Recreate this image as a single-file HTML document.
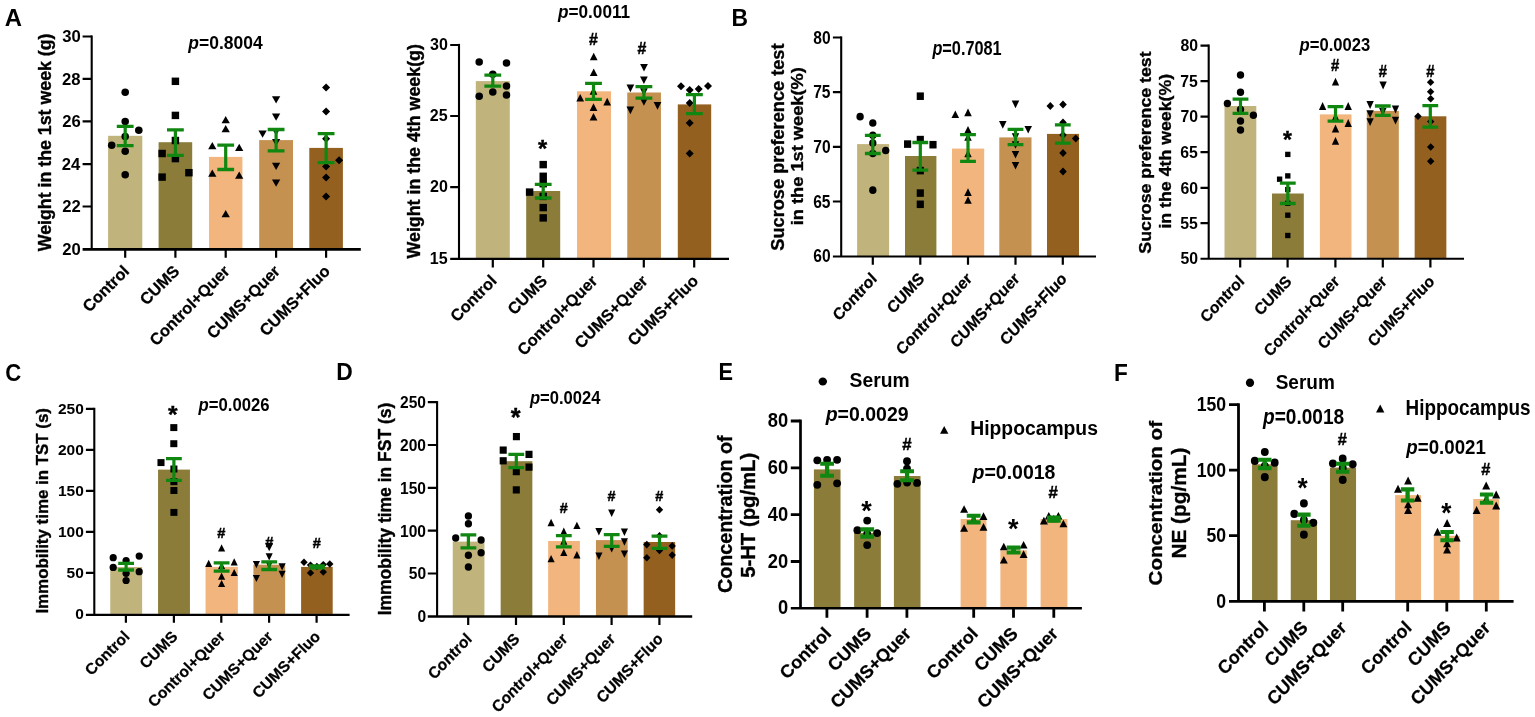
<!DOCTYPE html>
<html lang="en">
<head>
<meta charset="utf-8">
<title>Figure</title>
<style>
html,body{margin:0;padding:0;background:#fff;}
body{width:1535px;height:717px;overflow:hidden;}
svg{display:block;filter:blur(0.45px);}
svg text{font-family:"Liberation Sans", Arial, Helvetica, sans-serif;font-weight:bold;fill:#000;}
</style>
</head>
<body>
<svg width="1535" height="717" viewBox="0 0 1535 717">
<rect width="1535" height="717" fill="#fff"/>
<g id="a1">
<rect x="108.1" y="135.8" width="34.2" height="113.1" fill="#c1b37c"/>
<rect x="158.6" y="142.2" width="33.6" height="106.7" fill="#8b7d39"/>
<rect x="209" y="156.9" width="33.4" height="92" fill="#f2b57d"/>
<rect x="259.2" y="140.1" width="33.8" height="108.8" fill="#c49151"/>
<rect x="309.3" y="147.9" width="33.6" height="101" fill="#94601f"/>
<g fill="#000">
<ellipse cx="125.2" cy="92.3" rx="3.77" ry="3.77"/>
<ellipse cx="125.2" cy="121.5" rx="3.77" ry="3.77"/>
<ellipse cx="138.8" cy="130.2" rx="3.77" ry="3.77"/>
<ellipse cx="125.2" cy="136.6" rx="3.77" ry="3.77"/>
<ellipse cx="111.7" cy="145.2" rx="3.77" ry="3.77"/>
<ellipse cx="125.2" cy="151.2" rx="3.77" ry="3.77"/>
<ellipse cx="125.2" cy="174.7" rx="3.77" ry="3.77"/>
<rect x="171.68" y="77.58" width="7.45" height="7.45"/>
<rect x="171.68" y="111.68" width="7.45" height="7.45"/>
<rect x="171.68" y="136.78" width="7.45" height="7.45"/>
<rect x="158.38" y="149.78" width="7.45" height="7.45"/>
<rect x="171.68" y="154.88" width="7.45" height="7.45"/>
<rect x="185.18" y="168.97" width="7.45" height="7.45"/>
<rect x="158.38" y="173.38" width="7.45" height="7.45"/>
<path d="M221.57 123.33L229.82 123.33L225.7 116.08Z"/>
<path d="M221.57 132.22L229.82 132.22L225.7 124.97Z"/>
<path d="M208.18 149.22L216.43 149.22L212.3 141.97Z"/>
<path d="M235.07 150.93L243.32 150.93L239.2 143.68Z"/>
<path d="M208.18 176.82L216.43 176.82L212.3 169.57Z"/>
<path d="M235.07 178.82L243.32 178.82L239.2 171.57Z"/>
<path d="M221.57 217.32L229.82 217.32L225.7 210.07Z"/>
<path d="M271.98 96.28L280.23 96.28L276.1 103.53Z"/>
<path d="M271.98 113.47L280.23 113.47L276.1 120.72Z"/>
<path d="M258.48 130.57L266.73 130.57L262.6 137.82Z"/>
<path d="M271.98 128.38L280.23 128.38L276.1 135.62Z"/>
<path d="M271.98 138.88L280.23 138.88L276.1 146.12Z"/>
<path d="M271.98 162.78L280.23 162.78L276.1 170.03Z"/>
<path d="M271.98 179.57L280.23 179.57L276.1 186.82Z"/>
<path d="M322.08 87.6L326.1 83.57L330.12 87.6L326.1 91.62Z"/>
<path d="M322.08 111.4L326.1 107.38L330.12 111.4L326.1 115.43Z"/>
<path d="M322.08 138.8L326.1 134.78L330.12 138.8L326.1 142.83Z"/>
<path d="M335.08 160.3L339.1 156.28L343.12 160.3L339.1 164.33Z"/>
<path d="M322.08 166.4L326.1 162.38L330.12 166.4L326.1 170.43Z"/>
<path d="M322.08 177.4L326.1 173.38L330.12 177.4L326.1 181.43Z"/>
<path d="M322.08 196.4L326.1 192.38L330.12 196.4L326.1 200.43Z"/>
</g>
<path d="M125.2 126.3V145.6M175.4 129.8V155.4M225.7 145.2V169.5M276.1 129.5V150.8M326.1 133.7V162.7" stroke="#108710" stroke-width="3.2" fill="none"/>
<path d="M116.8 126.3H133.6M116.8 145.6H133.6M167 129.8H183.8M167 155.4H183.8M217.3 145.2H234.1M217.3 169.5H234.1M267.7 129.5H284.5M267.7 150.8H284.5M317.7 133.7H334.5M317.7 162.7H334.5" stroke="#108710" stroke-width="3.3" fill="none"/>
<path d="M91.7 35.4V249.3" stroke="#000" stroke-width="2.1" fill="none"/>
<path d="M82.6 249.3H360.8" stroke="#000" stroke-width="2.8" fill="none"/>
<path d="M82.6 36.5H91.7M82.6 78.9H91.7M82.6 121.4H91.7M82.6 164.1H91.7M82.6 206.5H91.7M125.2 249.3V257.7M175.4 249.3V257.7M225.7 249.3V257.7M276.1 249.3V257.7M326.1 249.3V257.7" stroke="#000" stroke-width="2.2" fill="none"/>
<text transform="translate(62.27 42.32) scale(0.98 1)" font-size="17">30</text>
<text transform="translate(62.11 84.74) scale(0.98 1)" font-size="17">28</text>
<text transform="translate(62.19 127.24) scale(0.98 1)" font-size="17">26</text>
<text transform="translate(61.69 170.03) scale(0.98 1)" font-size="17">24</text>
<text transform="translate(62.27 212.43) scale(0.98 1)" font-size="17">22</text>
<text transform="translate(62.27 254.74) scale(0.98 1)" font-size="17">20</text>
<text transform="translate(130.2 272.2) rotate(-45)" font-size="16.3" text-anchor="end" stroke="#000" stroke-width="0.25">Control</text>
<text transform="translate(180.4 272.2) rotate(-45)" font-size="16.3" text-anchor="end" stroke="#000" stroke-width="0.25">CUMS</text>
<text transform="translate(230.7 272.2) rotate(-45)" font-size="16.3" text-anchor="end" stroke="#000" stroke-width="0.25">Control+Quer</text>
<text transform="translate(281.1 272.2) rotate(-45)" font-size="16.3" text-anchor="end" stroke="#000" stroke-width="0.25">CUMS+Quer</text>
<text transform="translate(331.1 272.2) rotate(-45)" font-size="16.3" text-anchor="end" stroke="#000" stroke-width="0.25">CUMS+Fluo</text>
<text transform="translate(51.1 251.29) rotate(-90)" font-size="17.78" stroke="#000" stroke-width="0.35">Weight in the 1st week (g)</text>
<text transform="translate(188.34 48.91) scale(0.936 1)" font-size="18.66"><tspan font-style="italic">p</tspan>=0.8004</text>
<text transform="translate(4.65 26.45) scale(0.995 1)" font-size="24">A</text>
</g>
<g id="a2">
<rect x="475.8" y="81.1" width="34" height="177.3" fill="#c1b37c"/>
<rect x="526.2" y="191" width="34" height="67.4" fill="#8b7d39"/>
<rect x="577" y="91.3" width="34" height="167.1" fill="#f2b57d"/>
<rect x="627.25" y="92.5" width="33.7" height="165.9" fill="#c49151"/>
<rect x="677.8" y="104.4" width="33.4" height="154" fill="#94601f"/>
<g fill="#000">
<ellipse cx="479.2" cy="62.1" rx="3.77" ry="3.77"/>
<ellipse cx="506.5" cy="63.1" rx="3.77" ry="3.77"/>
<ellipse cx="492.8" cy="74.3" rx="3.77" ry="3.77"/>
<ellipse cx="506.5" cy="86" rx="3.77" ry="3.77"/>
<ellipse cx="492.8" cy="91.9" rx="3.77" ry="3.77"/>
<ellipse cx="479.2" cy="96.2" rx="3.77" ry="3.77"/>
<ellipse cx="506.5" cy="95" rx="3.77" ry="3.77"/>
<rect x="539.48" y="160.88" width="7.45" height="7.45"/>
<rect x="539.48" y="172.58" width="7.45" height="7.45"/>
<rect x="539.48" y="179.97" width="7.45" height="7.45"/>
<rect x="525.88" y="188.38" width="7.45" height="7.45"/>
<rect x="539.48" y="192.68" width="7.45" height="7.45"/>
<rect x="539.48" y="203.88" width="7.45" height="7.45"/>
<rect x="539.48" y="214.18" width="7.45" height="7.45"/>
<path d="M589.83 60.33L597.58 60.33L593.7 52.67Z"/>
<path d="M589.83 76.12L597.58 76.12L593.7 68.47Z"/>
<path d="M589.62 94.73L597.38 94.73L593.5 87.08Z"/>
<path d="M576.33 101.53L584.08 101.53L580.2 93.88Z"/>
<path d="M603.33 105.42L611.08 105.42L607.2 97.77Z"/>
<path d="M589.62 110.92L597.38 110.92L593.5 103.27Z"/>
<path d="M589.62 120.53L597.38 120.53L593.5 112.88Z"/>
<path d="M640.12 63.88L647.88 63.88L644 71.53Z"/>
<path d="M640.02 76.38L647.77 76.38L643.9 84.03Z"/>
<path d="M626.52 84.58L634.27 84.58L630.4 92.23Z"/>
<path d="M640.02 88.17L647.77 88.17L643.9 95.83Z"/>
<path d="M640.02 98.17L647.77 98.17L643.9 105.83Z"/>
<path d="M653.62 102.08L661.38 102.08L657.5 109.73Z"/>
<path d="M626.52 106.58L634.27 106.58L630.4 114.23Z"/>
<path d="M677.02 86.2L681 82.23L684.98 86.2L681 90.17Z"/>
<path d="M685.73 90L689.7 86.03L693.68 90L689.7 93.97Z"/>
<path d="M694.73 89L698.7 85.03L702.68 89L698.7 92.97Z"/>
<path d="M704.02 86.1L708 82.12L711.98 86.1L708 90.07Z"/>
<path d="M685.73 103L689.7 99.03L693.68 103L689.7 106.97Z"/>
<path d="M685.73 123.1L689.7 119.12L693.68 123.1L689.7 127.07Z"/>
<path d="M685.73 153.4L689.7 149.43L693.68 153.4L689.7 157.38Z"/>
</g>
<path d="M492.8 75.2V86.2M543.2 184.3V198M593.5 83.4V99.3M643.9 86.7V98.1M694.4 94.7V113.6" stroke="#108710" stroke-width="3.2" fill="none"/>
<path d="M484.4 75.2H501.2M484.4 86.2H501.2M534.8 184.3H551.6M534.8 198H551.6M585.1 83.4H601.9M585.1 99.3H601.9M635.5 86.7H652.3M635.5 98.1H652.3M686 94.7H702.8M686 113.6H702.8" stroke="#108710" stroke-width="3.3" fill="none"/>
<path d="M459 43.9V258.8" stroke="#000" stroke-width="2.1" fill="none"/>
<path d="M450.2 258.8H729" stroke="#000" stroke-width="2.3" fill="none"/>
<path d="M450.2 45H459M450.2 116H459M450.2 187.2H459M492.8 258.8V267.4M543.2 258.8V267.4M593.5 258.8V267.4M643.8 258.8V267.4M694.2 258.8V267.4" stroke="#000" stroke-width="2.2" fill="none"/>
<text transform="translate(430.01 50.22) scale(0.945 1)" font-size="17">30</text>
<text transform="translate(429.81 121.24) scale(0.945 1)" font-size="17">25</text>
<text transform="translate(430.01 192.44) scale(0.945 1)" font-size="17">20</text>
<text transform="translate(429.81 263.56) scale(0.945 1)" font-size="17">15</text>
<text transform="translate(497.8 281.9) rotate(-45)" font-size="16.3" text-anchor="end" stroke="#000" stroke-width="0.25">Control</text>
<text transform="translate(548.2 281.9) rotate(-45)" font-size="16.3" text-anchor="end" stroke="#000" stroke-width="0.25">CUMS</text>
<text transform="translate(598.5 281.9) rotate(-45)" font-size="16.3" text-anchor="end" stroke="#000" stroke-width="0.25">Control+Quer</text>
<text transform="translate(648.8 281.9) rotate(-45)" font-size="16.3" text-anchor="end" stroke="#000" stroke-width="0.25">CUMS+Quer</text>
<text transform="translate(699.2 281.9) rotate(-45)" font-size="16.3" text-anchor="end" stroke="#000" stroke-width="0.25">CUMS+Fluo</text>
<text transform="translate(420.3 258.49) rotate(-90)" font-size="17.82" stroke="#000" stroke-width="0.35">Weight in the 4th week(g)</text>
<text transform="translate(557.94 18.47) scale(0.954 1)" font-size="18.02"><tspan font-style="italic">p</tspan>=0.0011</text>
<text transform="translate(588.9 45)" font-size="15.8" stroke="#000" stroke-width="0.45">#</text>
<text transform="translate(637.4 53.9)" font-size="15.8" stroke="#000" stroke-width="0.45">#</text>
<text transform="translate(538.1 157.43)" font-size="23.6" stroke="#000" stroke-width="0.4">*</text>
</g>
<g id="b1">
<rect x="857.1" y="144.1" width="32" height="112" fill="#c1b37c"/>
<rect x="905" y="156" width="31.4" height="100.1" fill="#8b7d39"/>
<rect x="952" y="148.6" width="32.2" height="107.5" fill="#f2b57d"/>
<rect x="999.3" y="137.4" width="32.2" height="118.7" fill="#c49151"/>
<rect x="1047" y="133.9" width="32" height="122.2" fill="#94601f"/>
<g fill="#000">
<ellipse cx="860.1" cy="116.7" rx="3.67" ry="3.83"/>
<ellipse cx="872.8" cy="123" rx="3.67" ry="3.83"/>
<ellipse cx="872.8" cy="135.3" rx="3.67" ry="3.83"/>
<ellipse cx="872.8" cy="143.1" rx="3.67" ry="3.83"/>
<ellipse cx="885.7" cy="150.5" rx="3.67" ry="3.83"/>
<ellipse cx="872.8" cy="153.5" rx="3.67" ry="3.83"/>
<ellipse cx="872.8" cy="190.2" rx="3.67" ry="3.83"/>
<rect x="916.72" y="92.42" width="7.15" height="7.55"/>
<rect x="904.02" y="140.32" width="7.15" height="7.55"/>
<rect x="916.72" y="135.82" width="7.15" height="7.55"/>
<rect x="929.42" y="140.92" width="7.15" height="7.55"/>
<rect x="916.72" y="166.82" width="7.15" height="7.55"/>
<rect x="916.72" y="189.32" width="7.15" height="7.55"/>
<rect x="916.72" y="200.53" width="7.15" height="7.55"/>
<path d="M951.52 118.03L959.07 118.03L955.3 110.38Z"/>
<path d="M964.23 116.23L971.77 116.23L968 108.58Z"/>
<path d="M964.23 133.62L971.77 133.62L968 125.98Z"/>
<path d="M964.23 140.82L971.77 140.82L968 133.18Z"/>
<path d="M964.23 157.32L971.77 157.32L968 149.68Z"/>
<path d="M964.23 195.92L971.77 195.92L968 188.28Z"/>
<path d="M964.23 203.82L971.77 203.82L968 196.18Z"/>
<path d="M1011.73 100.58L1019.27 100.58L1015.5 108.23Z"/>
<path d="M999.02 121.08L1006.57 121.08L1002.8 128.72Z"/>
<path d="M1024.42 125.98L1031.98 125.98L1028.2 133.62Z"/>
<path d="M1011.73 133.18L1019.27 133.18L1015.5 140.82Z"/>
<path d="M1011.73 141.18L1019.27 141.18L1015.5 148.82Z"/>
<path d="M1011.73 150.98L1019.27 150.98L1015.5 158.62Z"/>
<path d="M1011.73 161.98L1019.27 161.98L1015.5 169.62Z"/>
<path d="M1046.52 106L1050.3 102.03L1054.08 106L1050.3 109.97Z"/>
<path d="M1059.22 104.6L1063 100.62L1066.78 104.6L1063 108.57Z"/>
<path d="M1059.22 122.6L1063 118.62L1066.78 122.6L1063 126.57Z"/>
<path d="M1059.22 135L1063 131.03L1066.78 135L1063 138.97Z"/>
<path d="M1071.92 138.6L1075.7 134.62L1079.48 138.6L1075.7 142.57Z"/>
<path d="M1059.22 152.9L1063 148.93L1066.78 152.9L1063 156.88Z"/>
<path d="M1059.22 171.4L1063 167.43L1066.78 171.4L1063 175.38Z"/>
</g>
<path d="M872.8 135.3V153.5M920.3 142.5V170.1M968 134.7V161.3M1015.5 129.4V144.7M1062.8 124.9V143.1" stroke="#108710" stroke-width="3.2" fill="none"/>
<path d="M864.9 135.3H880.7M864.9 153.5H880.7M912.4 142.5H928.2M912.4 170.1H928.2M960.1 134.7H975.9M960.1 161.3H975.9M1007.6 129.4H1023.4M1007.6 144.7H1023.4M1054.9 124.9H1070.7M1054.9 143.1H1070.7" stroke="#108710" stroke-width="3.3" fill="none"/>
<path d="M841.2 36.4V256.5" stroke="#000" stroke-width="2.1" fill="none"/>
<path d="M832.9 256.5H1096" stroke="#000" stroke-width="2.2" fill="none"/>
<path d="M832.9 37.5H841.2M832.9 92.2H841.2M832.9 146.9H841.2M832.9 201.5H841.2M872.8 256.5V264.8M920.3 256.5V264.8M968 256.5V264.8M1015.5 256.5V264.8M1062.8 256.5V264.8" stroke="#000" stroke-width="2.2" fill="none"/>
<text transform="translate(813.33 43.52) scale(0.89 1)" font-size="17.5">80</text>
<text transform="translate(813.14 98.13) scale(0.89 1)" font-size="17.5">75</text>
<text transform="translate(813.33 152.92) scale(0.89 1)" font-size="17.5">70</text>
<text transform="translate(813.14 207.52) scale(0.89 1)" font-size="17.5">65</text>
<text transform="translate(813.33 262.12) scale(0.89 1)" font-size="17.5">60</text>
<text transform="translate(877.8 279.7) scale(0.925 1) rotate(-45)" font-size="16.7" text-anchor="end" stroke="#000" stroke-width="0.25">Control</text>
<text transform="translate(925.3 279.7) scale(0.925 1) rotate(-45)" font-size="16.7" text-anchor="end" stroke="#000" stroke-width="0.25">CUMS</text>
<text transform="translate(973 279.7) scale(0.925 1) rotate(-45)" font-size="16.7" text-anchor="end" stroke="#000" stroke-width="0.25">Control+Quer</text>
<text transform="translate(1020.5 279.7) scale(0.925 1) rotate(-45)" font-size="16.7" text-anchor="end" stroke="#000" stroke-width="0.25">CUMS+Quer</text>
<text transform="translate(1067.8 279.7) scale(0.925 1) rotate(-45)" font-size="16.7" text-anchor="end" stroke="#000" stroke-width="0.25">CUMS+Fluo</text>
<text transform="translate(784 250.7) scale(0.96 1) rotate(-90)" font-size="18.2" stroke="#000" stroke-width="0.35">Sucrose preference test</text>
<text transform="translate(802.7 225.23) scale(0.95 1) rotate(-90)" font-size="18.25" stroke="#000" stroke-width="0.35">in the 1st week(%)</text>
<text transform="translate(932.42 55.25) scale(0.829 1)" font-size="19.65"><tspan font-style="italic">p</tspan>=0.7081</text>
<text transform="translate(731.41 26.45) scale(0.953 1)" font-size="24">B</text>
</g>
<g id="b2">
<rect x="1224.5" y="106" width="31.8" height="152.4" fill="#c1b37c"/>
<rect x="1272" y="193.5" width="31.8" height="64.9" fill="#8b7d39"/>
<rect x="1319.9" y="114.4" width="31.6" height="144" fill="#f2b57d"/>
<rect x="1366.8" y="110.9" width="32" height="147.5" fill="#c49151"/>
<rect x="1414.65" y="116.3" width="31.7" height="142.1" fill="#94601f"/>
<g fill="#000">
<ellipse cx="1240.5" cy="75.1" rx="3.67" ry="3.77"/>
<ellipse cx="1240.5" cy="92.3" rx="3.67" ry="3.77"/>
<ellipse cx="1227.4" cy="103.6" rx="3.67" ry="3.77"/>
<ellipse cx="1240.5" cy="109.5" rx="3.67" ry="3.77"/>
<ellipse cx="1253.4" cy="115.2" rx="3.67" ry="3.77"/>
<ellipse cx="1240.5" cy="121" rx="3.67" ry="3.77"/>
<ellipse cx="1240.5" cy="130" rx="3.67" ry="3.77"/>
<rect x="1285.12" y="151.72" width="5.35" height="5.35"/>
<rect x="1285.12" y="173.22" width="5.35" height="5.35"/>
<rect x="1276.92" y="176.52" width="5.35" height="5.35"/>
<rect x="1285.12" y="186.92" width="5.35" height="5.35"/>
<rect x="1285.12" y="200.62" width="5.35" height="5.35"/>
<rect x="1285.12" y="212.52" width="5.35" height="5.35"/>
<rect x="1285.12" y="232.82" width="5.35" height="5.35"/>
<path d="M1331.83 85.47L1339.17 85.47L1335.5 77.72Z"/>
<path d="M1318.92 109.88L1326.27 109.88L1322.6 102.12Z"/>
<path d="M1344.53 109.88L1351.88 109.88L1348.2 102.12Z"/>
<path d="M1331.83 120.58L1339.17 120.58L1335.5 112.83Z"/>
<path d="M1344.53 126.88L1351.88 126.88L1348.2 119.12Z"/>
<path d="M1331.83 132.38L1339.17 132.38L1335.5 124.62Z"/>
<path d="M1331.83 144.68L1339.17 144.68L1335.5 136.93Z"/>
<path d="M1379.42 81.62L1386.77 81.62L1383.1 89.38Z"/>
<path d="M1366.42 101.12L1373.77 101.12L1370.1 108.88Z"/>
<path d="M1391.83 105.62L1399.17 105.62L1395.5 113.38Z"/>
<path d="M1366.42 110.33L1373.77 110.33L1370.1 118.08Z"/>
<path d="M1379.12 108.12L1386.47 108.12L1382.8 115.88Z"/>
<path d="M1391.83 116.72L1399.17 116.72L1395.5 124.47Z"/>
<path d="M1366.42 118.33L1373.77 118.33L1370.1 126.08Z"/>
<path d="M1426.88 82.3L1430.6 78.58L1434.32 82.3L1430.6 86.02Z"/>
<path d="M1426.88 91.8L1430.6 88.08L1434.32 91.8L1430.6 95.52Z"/>
<path d="M1426.98 98.8L1430.7 95.08L1434.42 98.8L1430.7 102.52Z"/>
<path d="M1414.28 116.3L1418 112.58L1421.72 116.3L1418 120.02Z"/>
<path d="M1426.98 121.6L1430.7 117.88L1434.42 121.6L1430.7 125.32Z"/>
<path d="M1426.98 147L1430.7 143.28L1434.42 147L1430.7 150.72Z"/>
<path d="M1426.98 161.3L1430.7 157.58L1434.42 161.3L1430.7 165.03Z"/>
</g>
<path d="M1240.5 99.1V113.4M1287.8 183.2V203.5M1335.5 106.6V121.2M1382.8 106V115.4M1430.3 105.6V127.1" stroke="#108710" stroke-width="3.2" fill="none"/>
<path d="M1232.6 99.1H1248.4M1232.6 113.4H1248.4M1279.9 183.2H1295.7M1279.9 203.5H1295.7M1327.6 106.6H1343.4M1327.6 121.2H1343.4M1374.9 106H1390.7M1374.9 115.4H1390.7M1422.4 105.6H1438.2M1422.4 127.1H1438.2" stroke="#108710" stroke-width="3.3" fill="none"/>
<path d="M1208.7 44.5V258.8" stroke="#000" stroke-width="2.1" fill="none"/>
<path d="M1200.5 258.8H1464" stroke="#000" stroke-width="2.1" fill="none"/>
<path d="M1200.5 45.6H1208.7M1200.5 81.2H1208.7M1200.5 116.6H1208.7M1200.5 152.2H1208.7M1200.5 187.8H1208.7M1200.5 223.2H1208.7M1240.2 258.8V267.4M1287.6 258.8V267.4M1335.4 258.8V267.4M1382.8 258.8V267.4M1430.4 258.8V267.4" stroke="#000" stroke-width="2.2" fill="none"/>
<text transform="translate(1180.39 51.48) scale(0.924 1)" font-size="17.1">80</text>
<text transform="translate(1180.2 86.99) scale(0.924 1)" font-size="17.1">75</text>
<text transform="translate(1180.39 122.48) scale(0.924 1)" font-size="17.1">70</text>
<text transform="translate(1180.2 158.08) scale(0.924 1)" font-size="17.1">65</text>
<text transform="translate(1180.39 193.68) scale(0.924 1)" font-size="17.1">60</text>
<text transform="translate(1180.2 228.99) scale(0.924 1)" font-size="17.1">55</text>
<text transform="translate(1180.39 264.28) scale(0.924 1)" font-size="17.1">50</text>
<text transform="translate(1245.2 282.4) scale(0.94 1) rotate(-45)" font-size="16.4" text-anchor="end" stroke="#000" stroke-width="0.25">Control</text>
<text transform="translate(1292.6 282.4) scale(0.94 1) rotate(-45)" font-size="16.4" text-anchor="end" stroke="#000" stroke-width="0.25">CUMS</text>
<text transform="translate(1340.4 282.4) scale(0.94 1) rotate(-45)" font-size="16.4" text-anchor="end" stroke="#000" stroke-width="0.25">Control+Quer</text>
<text transform="translate(1387.8 282.4) scale(0.94 1) rotate(-45)" font-size="16.4" text-anchor="end" stroke="#000" stroke-width="0.25">CUMS+Quer</text>
<text transform="translate(1435.4 282.4) scale(0.94 1) rotate(-45)" font-size="16.4" text-anchor="end" stroke="#000" stroke-width="0.25">CUMS+Fluo</text>
<text transform="translate(1151.1 253.68) scale(0.96 1) rotate(-90)" font-size="17.78" stroke="#000" stroke-width="0.35">Sucrose preference test</text>
<text transform="translate(1170.8 228.59) scale(0.95 1) rotate(-90)" font-size="17.75" stroke="#000" stroke-width="0.35">in the 4th week(%)</text>
<text transform="translate(1299.62 50.77) scale(0.905 1)" font-size="18.37"><tspan font-style="italic">p</tspan>=0.0023</text>
<text transform="translate(1331.07 70.7) scale(0.95 1)" font-size="15.6" stroke="#000" stroke-width="0.45">#</text>
<text transform="translate(1378.67 77.2) scale(0.95 1)" font-size="15.6" stroke="#000" stroke-width="0.45">#</text>
<text transform="translate(1426.17 77) scale(0.95 1)" font-size="15.6" stroke="#000" stroke-width="0.45">#</text>
<text transform="translate(1282.94 147.63) scale(0.97 1)" font-size="23.6" stroke="#000" stroke-width="0.4">*</text>
</g>
<g id="c">
<rect x="110.25" y="567" width="31.9" height="46.9" fill="#c1b37c"/>
<rect x="158.05" y="469.6" width="31.9" height="144.3" fill="#8b7d39"/>
<rect x="205.55" y="566.9" width="32.3" height="47" fill="#f2b57d"/>
<rect x="253.45" y="564.7" width="31.7" height="49.2" fill="#c49151"/>
<rect x="301.1" y="566.9" width="31.6" height="47" fill="#94601f"/>
<g fill="#000">
<ellipse cx="113.2" cy="557.7" rx="3.62" ry="3.62"/>
<ellipse cx="139.2" cy="556.1" rx="3.62" ry="3.62"/>
<ellipse cx="126.1" cy="560.6" rx="3.62" ry="3.62"/>
<ellipse cx="113.2" cy="567.4" rx="3.62" ry="3.62"/>
<ellipse cx="139.2" cy="571.7" rx="3.62" ry="3.62"/>
<ellipse cx="126.1" cy="573.3" rx="3.62" ry="3.62"/>
<ellipse cx="126.1" cy="580.5" rx="3.62" ry="3.62"/>
<rect x="170.28" y="424.12" width="7.05" height="6.95"/>
<rect x="170.28" y="440.22" width="7.05" height="6.95"/>
<rect x="157.47" y="459.12" width="7.05" height="6.95"/>
<rect x="170.38" y="465.52" width="7.05" height="6.95"/>
<rect x="170.38" y="478.22" width="7.05" height="6.95"/>
<rect x="170.38" y="487.02" width="7.05" height="6.95"/>
<rect x="170.38" y="508.92" width="7.05" height="6.95"/>
<path d="M218.03 551.52L225.17 551.52L221.6 544.27Z"/>
<path d="M205.12 566.92L212.27 566.92L208.7 559.67Z"/>
<path d="M230.62 565.52L237.77 565.52L234.2 558.27Z"/>
<path d="M230.62 576.12L237.77 576.12L234.2 568.88Z"/>
<path d="M218.03 569.23L225.17 569.23L221.6 561.98Z"/>
<path d="M218.03 579.73L225.17 579.73L221.6 572.48Z"/>
<path d="M218.03 587.12L225.17 587.12L221.6 579.88Z"/>
<path d="M265.62 543.98L272.77 543.98L269.2 551.23Z"/>
<path d="M265.62 553.17L272.77 553.17L269.2 560.42Z"/>
<path d="M252.82 560.98L259.97 560.98L256.4 568.23Z"/>
<path d="M265.62 561.48L272.77 561.48L269.2 568.73Z"/>
<path d="M278.53 563.27L285.68 563.27L282.1 570.52Z"/>
<path d="M278.53 570.67L285.68 570.67L282.1 577.92Z"/>
<path d="M252.82 574.88L259.97 574.88L256.4 582.12Z"/>
<path d="M300.32 562.3L304 558.62L307.68 562.3L304 565.97Z"/>
<path d="M306.82 565.1L310.5 561.43L314.18 565.1L310.5 568.77Z"/>
<path d="M319.62 564.6L323.3 560.93L326.98 564.6L323.3 568.27Z"/>
<path d="M326.12 564L329.8 560.33L333.48 564L329.8 567.67Z"/>
<path d="M306.82 572.9L310.5 569.23L314.18 572.9L310.5 576.57Z"/>
<path d="M319.62 572L323.3 568.33L326.98 572L323.3 575.67Z"/>
<path d="M313.22 566.5L316.9 562.83L320.57 566.5L316.9 570.17Z"/>
</g>
<path d="M126.1 563.4V570M173.9 458.7V480.4M221.6 562.8V571.1M269.2 561.9V569.5M316.9 565.9V567.9" stroke="#108710" stroke-width="3.2" fill="none"/>
<path d="M118.2 563.4H134M118.2 570H134M166 458.7H181.8M166 480.4H181.8M213.7 562.8H229.5M213.7 571.1H229.5M261.3 561.9H277.1M261.3 569.5H277.1M309 565.9H324.8M309 567.9H324.8" stroke="#108710" stroke-width="3.3" fill="none"/>
<path d="M94.3 407.8V614.9" stroke="#000" stroke-width="2.1" fill="none"/>
<path d="M85.9 614.9H349.6" stroke="#000" stroke-width="2.3" fill="none"/>
<path d="M85.9 408.9H94.3M85.9 449.9H94.3M85.9 490.9H94.3M85.9 531.9H94.3M85.9 572.9H94.3M125.9 614.9V622.7M173.9 614.9V622.7M221.3 614.9V622.7M269.1 614.9V622.7M316.6 614.9V622.7" stroke="#000" stroke-width="2.2" fill="none"/>
<text transform="translate(57.97 413.83)" font-size="15.5">250</text>
<text transform="translate(57.97 454.83)" font-size="15.5">200</text>
<text transform="translate(57.97 495.83)" font-size="15.5">150</text>
<text transform="translate(57.97 536.83)" font-size="15.5">100</text>
<text transform="translate(66.62 577.83)" font-size="15.5">50</text>
<text transform="translate(75.22 618.83)" font-size="15.5">0</text>
<text transform="translate(130.7 637.5) scale(1.02 1) rotate(-45)" font-size="15.4" text-anchor="end" stroke="#000" stroke-width="0.25">Control</text>
<text transform="translate(178.7 637.5) scale(1.02 1) rotate(-45)" font-size="15.4" text-anchor="end" stroke="#000" stroke-width="0.25">CUMS</text>
<text transform="translate(226.1 637.5) scale(1.02 1) rotate(-45)" font-size="15.4" text-anchor="end" stroke="#000" stroke-width="0.25">Control+Quer</text>
<text transform="translate(273.9 637.5) scale(1.02 1) rotate(-45)" font-size="15.4" text-anchor="end" stroke="#000" stroke-width="0.25">CUMS+Quer</text>
<text transform="translate(321.4 637.5) scale(1.02 1) rotate(-45)" font-size="15.4" text-anchor="end" stroke="#000" stroke-width="0.25">CUMS+Fluo</text>
<text transform="translate(48.4 613.59) scale(1.02 1) rotate(-90)" font-size="16.91" stroke="#000" stroke-width="0.35">Immobility time in TST (s)</text>
<text transform="translate(198.53 411.37) scale(0.924 1)" font-size="18.09"><tspan font-style="italic">p</tspan>=0.0026</text>
<text transform="translate(5.16 381.01) scale(0.927 1)" font-size="23.89">C</text>
<text transform="translate(217.34 537.9) scale(1.04 1)" font-size="14" stroke="#000" stroke-width="0.45">#</text>
<text transform="translate(265.24 547.2) scale(1.04 1)" font-size="14" stroke="#000" stroke-width="0.45">#</text>
<text transform="translate(312.64 547.6) scale(1.04 1)" font-size="14" stroke="#000" stroke-width="0.45">#</text>
<text transform="translate(168 423.33)" font-size="24.6" stroke="#000" stroke-width="0.4">*</text>
</g>
<g id="d">
<rect x="452.75" y="541.6" width="31.7" height="74.7" fill="#c1b37c"/>
<rect x="500.65" y="461.2" width="31.7" height="155.1" fill="#8b7d39"/>
<rect x="548.15" y="541" width="31.7" height="75.3" fill="#f2b57d"/>
<rect x="595.95" y="540.1" width="31.7" height="76.2" fill="#c49151"/>
<rect x="643.65" y="542" width="31.5" height="74.3" fill="#94601f"/>
<g fill="#000">
<ellipse cx="468.4" cy="516" rx="3.62" ry="3.73"/>
<ellipse cx="468.4" cy="523.8" rx="3.62" ry="3.73"/>
<ellipse cx="455.7" cy="538.1" rx="3.62" ry="3.73"/>
<ellipse cx="481.1" cy="540.1" rx="3.62" ry="3.73"/>
<ellipse cx="481.1" cy="552.8" rx="3.62" ry="3.73"/>
<ellipse cx="468.4" cy="555.3" rx="3.62" ry="3.73"/>
<ellipse cx="468.4" cy="567" rx="3.62" ry="3.73"/>
<rect x="512.88" y="432.98" width="7.05" height="7.25"/>
<rect x="499.68" y="446.48" width="7.05" height="7.25"/>
<rect x="525.48" y="450.77" width="7.05" height="7.25"/>
<rect x="499.68" y="457.18" width="7.05" height="7.25"/>
<rect x="525.48" y="463.48" width="7.05" height="7.25"/>
<rect x="512.77" y="467.98" width="7.05" height="7.25"/>
<rect x="512.77" y="486.27" width="7.05" height="7.25"/>
<path d="M547.52 526.23L554.68 526.23L551.1 518.77Z"/>
<path d="M573.32 529.12L580.48 529.12L576.9 521.67Z"/>
<path d="M560.22 535.02L567.38 535.02L563.8 527.57Z"/>
<path d="M560.22 544.73L567.38 544.73L563.8 537.27Z"/>
<path d="M560.22 556.12L567.38 556.12L563.8 548.67Z"/>
<path d="M573.32 558.43L580.48 558.43L576.9 550.98Z"/>
<path d="M547.52 562.33L554.68 562.33L551.1 554.88Z"/>
<path d="M608.12 509.57L615.28 509.57L611.7 517.02Z"/>
<path d="M595.32 527.98L602.48 527.98L598.9 535.43Z"/>
<path d="M620.82 528.48L627.98 528.48L624.4 535.93Z"/>
<path d="M620.82 538.27L627.98 538.27L624.4 545.73Z"/>
<path d="M608.12 545.17L615.28 545.17L611.7 552.62Z"/>
<path d="M620.82 550.38L627.98 550.38L624.4 557.83Z"/>
<path d="M595.32 552.57L602.48 552.57L598.9 560.02Z"/>
<path d="M655.83 509.8L659.5 506.03L663.17 509.8L659.5 513.58Z"/>
<path d="M655.83 535.8L659.5 532.02L663.17 535.8L659.5 539.57Z"/>
<path d="M643.12 544.6L646.8 540.83L650.47 544.6L646.8 548.38Z"/>
<path d="M668.53 545.9L672.2 542.12L675.88 545.9L672.2 549.67Z"/>
<path d="M655.83 550.4L659.5 546.62L663.17 550.4L659.5 554.17Z"/>
<path d="M668.53 555.1L672.2 551.33L675.88 555.1L672.2 558.88Z"/>
<path d="M643.12 557.7L646.8 553.93L650.47 557.7L646.8 561.48Z"/>
</g>
<path d="M468.4 534.8V547.9M516.3 454.4V467.7M563.8 535.6V546.9M611.7 534.6V546.3M659.5 536.2V548.3" stroke="#108710" stroke-width="3.2" fill="none"/>
<path d="M460.5 534.8H476.3M460.5 547.9H476.3M508.4 454.4H524.2M508.4 467.7H524.2M555.9 535.6H571.7M555.9 546.9H571.7M603.8 534.6H619.6M603.8 546.3H619.6M651.6 536.2H667.4M651.6 548.3H667.4" stroke="#108710" stroke-width="3.3" fill="none"/>
<path d="M437.1 401.1V616.5" stroke="#000" stroke-width="2.1" fill="none"/>
<path d="M427.8 616.5H692.2" stroke="#000" stroke-width="2.3" fill="none"/>
<path d="M427.8 402.2H437.1M427.8 445H437.1M427.8 487.8H437.1M427.8 530.7H437.1M427.8 573.5H437.1M468.2 616.5V625.1M516 616.5V625.1M563.8 616.5V625.1M611.6 616.5V625.1M659.4 616.5V625.1" stroke="#000" stroke-width="2.2" fill="none"/>
<text transform="translate(400.06 408.15) scale(0.9 1)" font-size="17.3">250</text>
<text transform="translate(400.06 450.95) scale(0.9 1)" font-size="17.3">200</text>
<text transform="translate(400.06 493.75) scale(0.9 1)" font-size="17.3">150</text>
<text transform="translate(400.06 536.65) scale(0.9 1)" font-size="17.3">100</text>
<text transform="translate(408.74 579.45) scale(0.9 1)" font-size="17.3">50</text>
<text transform="translate(417.38 622.25) scale(0.9 1)" font-size="17.3">0</text>
<text transform="translate(472.8 639.9) scale(0.955 1) rotate(-45)" font-size="16.1" text-anchor="end" stroke="#000" stroke-width="0.25">Control</text>
<text transform="translate(520.6 639.9) scale(0.955 1) rotate(-45)" font-size="16.1" text-anchor="end" stroke="#000" stroke-width="0.25">CUMS</text>
<text transform="translate(568.4 639.9) scale(0.955 1) rotate(-45)" font-size="16.1" text-anchor="end" stroke="#000" stroke-width="0.25">Control+Quer</text>
<text transform="translate(616.2 639.9) scale(0.955 1) rotate(-45)" font-size="16.1" text-anchor="end" stroke="#000" stroke-width="0.25">CUMS+Quer</text>
<text transform="translate(664 639.9) scale(0.955 1) rotate(-45)" font-size="16.1" text-anchor="end" stroke="#000" stroke-width="0.25">CUMS+Fluo</text>
<text transform="translate(391.2 615.33) scale(1.04 1) rotate(-90)" font-size="17.49" stroke="#000" stroke-width="0.35">Immobility time in FST (s)</text>
<text transform="translate(529.92 404.47) scale(0.902 1)" font-size="18.37"><tspan font-style="italic">p</tspan>=0.0024</text>
<text transform="translate(336.21 380.15) scale(0.958 1)" font-size="23.85">D</text>
<text transform="translate(559.79 513.2)" font-size="14.4" stroke="#000" stroke-width="0.45">#</text>
<text transform="translate(607.49 500.8)" font-size="14.4" stroke="#000" stroke-width="0.45">#</text>
<text transform="translate(655.29 500.8)" font-size="14.4" stroke="#000" stroke-width="0.45">#</text>
<text transform="translate(510.69 425.83)" font-size="25.2" stroke="#000" stroke-width="0.4">*</text>
</g>
<g id="e">
<rect x="813.9" y="469.4" width="26.6" height="138.9" fill="#8b7d39"/>
<rect x="854.15" y="532.9" width="26.7" height="75.4" fill="#8b7d39"/>
<rect x="893.9" y="476" width="26.6" height="132.3" fill="#8b7d39"/>
<rect x="960.6" y="519" width="25.8" height="89.3" fill="#f2b57d"/>
<rect x="1000.4" y="550.3" width="26.4" height="58" fill="#f2b57d"/>
<rect x="1040.6" y="519" width="26.8" height="89.3" fill="#f2b57d"/>
<g fill="#000">
<ellipse cx="817.3" cy="460.3" rx="3.92" ry="3.92"/>
<ellipse cx="827.1" cy="459.8" rx="3.92" ry="3.92"/>
<ellipse cx="837.1" cy="459.8" rx="3.92" ry="3.92"/>
<ellipse cx="817.3" cy="484.8" rx="3.92" ry="3.92"/>
<ellipse cx="837.1" cy="483.3" rx="3.92" ry="3.92"/>
<ellipse cx="867.2" cy="520.6" rx="3.92" ry="3.92"/>
<ellipse cx="857.4" cy="530.2" rx="3.92" ry="3.92"/>
<ellipse cx="877.1" cy="533.1" rx="3.92" ry="3.92"/>
<ellipse cx="867.2" cy="534" rx="3.92" ry="3.92"/>
<ellipse cx="867.2" cy="545.1" rx="3.92" ry="3.92"/>
<ellipse cx="907" cy="461.2" rx="3.92" ry="3.92"/>
<ellipse cx="907" cy="468.7" rx="3.92" ry="3.92"/>
<ellipse cx="897.4" cy="483.8" rx="3.92" ry="3.92"/>
<ellipse cx="907.1" cy="482.5" rx="3.92" ry="3.92"/>
<ellipse cx="917" cy="482.9" rx="3.92" ry="3.92"/>
<path d="M960.12 512.83L968.08 512.83L964.1 505.18Z"/>
<path d="M979.52 519.93L987.48 519.93L983.5 512.27Z"/>
<path d="M960.12 531.83L968.08 531.83L964.1 524.17Z"/>
<path d="M979.52 530.73L987.48 530.73L983.5 523.07Z"/>
<path d="M969.73 522.83L977.68 522.83L973.7 515.17Z"/>
<path d="M999.82 550.33L1007.77 550.33L1003.8 542.67Z"/>
<path d="M1019.62 548.53L1027.58 548.53L1023.6 540.88Z"/>
<path d="M1019.62 557.93L1027.58 557.93L1023.6 550.27Z"/>
<path d="M999.82 563.53L1007.77 563.53L1003.8 555.88Z"/>
<path d="M1009.62 553.83L1017.58 553.83L1013.6 546.17Z"/>
<path d="M1039.93 524.43L1047.88 524.43L1043.9 516.77Z"/>
<path d="M1044.83 519.53L1052.77 519.53L1048.8 511.88Z"/>
<path d="M1054.43 519.53L1062.38 519.53L1058.4 511.88Z"/>
<path d="M1059.43 527.33L1067.38 527.33L1063.4 519.67Z"/>
<path d="M1049.83 522.33L1057.77 522.33L1053.8 514.67Z"/>
<ellipse cx="822.8" cy="381.5" rx="4.22" ry="4.03"/>
<path d="M940.03 433.72L948.38 433.72L944.2 426.07Z"/>
</g>
<path d="M827.1 463.8V475.7M867.2 529.4V536.6M907.1 471.3V480.2M973.7 515.7V522.4M1013.6 547.6V552.5M1053.8 517.5V520.6" stroke="#108710" stroke-width="4.3" fill="none"/>
<path d="M820.2 463.8H834M820.2 475.7H834M860.3 529.4H874.1M860.3 536.6H874.1M900.2 471.3H914M900.2 480.2H914M966.8 515.7H980.6M966.8 522.4H980.6M1006.7 547.6H1020.5M1006.7 552.5H1020.5M1046.9 517.5H1060.7M1046.9 520.6H1060.7" stroke="#108710" stroke-width="4.1" fill="none"/>
<path d="M800.5 419.6V608.3" stroke="#000" stroke-width="2.7" fill="none"/>
<path d="M790.8 608.3H1081.9" stroke="#000" stroke-width="2.5" fill="none"/>
<path d="M790.8 421H800.5M790.8 467.8H800.5M790.8 514.7H800.5M790.8 561.5H800.5M826.9 608.3V617.7M867.1 608.3V617.7M906.9 608.3V617.7M973.7 608.3V617.7M1013.5 608.3V617.7M1053.8 608.3V617.7" stroke="#000" stroke-width="2.8" fill="none"/>
<text transform="translate(767.78 427.03) scale(0.95 1)" font-size="19.3">80</text>
<text transform="translate(767.78 473.83) scale(0.95 1)" font-size="19.3">60</text>
<text transform="translate(767.78 520.73) scale(0.95 1)" font-size="19.3">40</text>
<text transform="translate(767.78 567.53) scale(0.95 1)" font-size="19.3">20</text>
<text transform="translate(777.96 614.33) scale(0.95 1)" font-size="19.3">0</text>
<text transform="translate(832.3 634.7) rotate(-45)" font-size="18" text-anchor="end" stroke="#000" stroke-width="0.25">Control</text>
<text transform="translate(872.5 634.7) rotate(-45)" font-size="18" text-anchor="end" stroke="#000" stroke-width="0.25">CUMS</text>
<text transform="translate(912.3 634.7) rotate(-45)" font-size="18" text-anchor="end" stroke="#000" stroke-width="0.25">CUMS+Quer</text>
<text transform="translate(979.1 634.7) rotate(-45)" font-size="18" text-anchor="end" stroke="#000" stroke-width="0.25">Control</text>
<text transform="translate(1018.9 634.7) rotate(-45)" font-size="18" text-anchor="end" stroke="#000" stroke-width="0.25">CUMS</text>
<text transform="translate(1059.2 634.7) rotate(-45)" font-size="18" text-anchor="end" stroke="#000" stroke-width="0.25">CUMS+Quer</text>
<text transform="translate(732.2 593.04) scale(1.02 1) rotate(-90)" font-size="19.72" stroke="#000" stroke-width="0.35">Concentration of</text>
<text transform="translate(754.6 577.86) rotate(-90)" font-size="20.31" stroke="#000" stroke-width="0.35">5-HT (pg/mL)</text>
<text transform="translate(825.69 421.14) scale(0.944 1)" font-size="20.64"><tspan font-style="italic">p</tspan>=0.0029</text>
<text transform="translate(972.49 478.85) scale(0.952 1)" font-size="20.49"><tspan font-style="italic">p</tspan>=0.0018</text>
<text transform="translate(718.38 380.15) scale(0.908 1)" font-size="24">E</text>
<text transform="translate(849.57 387.45) scale(0.967 1)" font-size="19.93">Serum</text>
<text transform="translate(970.25 435.45) scale(0.949 1)" font-size="20.36">Hippocampus</text>
<text transform="translate(902.32 450.1)" font-size="16.8" stroke="#000" stroke-width="0.45">#</text>
<text transform="translate(1048.62 497.5)" font-size="16.8" stroke="#000" stroke-width="0.45">#</text>
<text transform="translate(861.34 520.23)" font-size="27">*</text>
<text transform="translate(1007.94 538.13)" font-size="27">*</text>
</g>
<g id="f">
<rect x="1252.05" y="464.3" width="25.5" height="136.9" fill="#8b7d39"/>
<rect x="1290.75" y="520.2" width="26.3" height="81" fill="#8b7d39"/>
<rect x="1329.95" y="467.6" width="26.1" height="133.6" fill="#8b7d39"/>
<rect x="1395.15" y="495.1" width="25.9" height="106.1" fill="#f2b57d"/>
<rect x="1433.75" y="535.8" width="25.9" height="65.4" fill="#f2b57d"/>
<rect x="1473.25" y="499" width="25.9" height="102.2" fill="#f2b57d"/>
<g fill="#000">
<ellipse cx="1264.8" cy="452" rx="3.92" ry="4.08"/>
<ellipse cx="1254.8" cy="460.9" rx="3.92" ry="4.08"/>
<ellipse cx="1274.7" cy="462.7" rx="3.92" ry="4.08"/>
<ellipse cx="1264.8" cy="466" rx="3.92" ry="4.08"/>
<ellipse cx="1264.8" cy="477.2" rx="3.92" ry="4.08"/>
<ellipse cx="1303.9" cy="503.4" rx="3.92" ry="4.08"/>
<ellipse cx="1294.3" cy="513.9" rx="3.92" ry="4.08"/>
<ellipse cx="1313.3" cy="522.8" rx="3.92" ry="4.08"/>
<ellipse cx="1303.9" cy="520" rx="3.92" ry="4.08"/>
<ellipse cx="1303.9" cy="534.7" rx="3.92" ry="4.08"/>
<ellipse cx="1342.7" cy="458.7" rx="3.92" ry="4.08"/>
<ellipse cx="1332.9" cy="463.6" rx="3.92" ry="4.08"/>
<ellipse cx="1352.7" cy="464.3" rx="3.92" ry="4.08"/>
<ellipse cx="1342.7" cy="468" rx="3.92" ry="4.08"/>
<ellipse cx="1342.7" cy="479.9" rx="3.92" ry="4.08"/>
<path d="M1404.12 484.38L1412.07 484.38L1408.1 476.42Z"/>
<path d="M1394.03 492.78L1401.97 492.78L1398 484.82Z"/>
<path d="M1413.73 501.78L1421.67 501.78L1417.7 493.82Z"/>
<path d="M1404.12 508.28L1412.07 508.28L1408.1 500.32Z"/>
<path d="M1404.12 513.98L1412.07 513.98L1408.1 506.02Z"/>
<path d="M1443.12 527.08L1451.07 527.08L1447.1 519.12Z"/>
<path d="M1433.53 535.77L1441.47 535.77L1437.5 527.82Z"/>
<path d="M1452.73 541.58L1460.67 541.58L1456.7 533.62Z"/>
<path d="M1443.12 547.27L1451.07 547.27L1447.1 539.32Z"/>
<path d="M1443.12 553.38L1451.07 553.38L1447.1 545.42Z"/>
<path d="M1482.23 489.48L1490.17 489.48L1486.2 481.52Z"/>
<path d="M1492.23 498.38L1500.17 498.38L1496.2 490.42Z"/>
<path d="M1492.23 509.58L1500.17 509.58L1496.2 501.62Z"/>
<path d="M1472.62 513.98L1480.57 513.98L1476.6 506.02Z"/>
<path d="M1482.23 502.88L1490.17 502.88L1486.2 494.92Z"/>
<ellipse cx="1250" cy="382.8" rx="4.12" ry="4.28"/>
<path d="M1376.03 412.42L1384.38 412.42L1380.2 404.38Z"/>
</g>
<path d="M1264.8 459.8V468.1M1303.9 514.6V525.7M1342.7 463.8V471.7M1407.6 489.4V500.5M1447.1 532V540.2M1486.6 494.5V502.8" stroke="#108710" stroke-width="4.3" fill="none"/>
<path d="M1258.1 459.8H1271.5M1258.1 468.1H1271.5M1297.2 514.6H1310.6M1297.2 525.7H1310.6M1336 463.8H1349.4M1336 471.7H1349.4M1400.9 489.4H1414.3M1400.9 500.5H1414.3M1440.4 532H1453.8M1440.4 540.2H1453.8M1479.9 494.5H1493.3M1479.9 502.8H1493.3" stroke="#108710" stroke-width="4.1" fill="none"/>
<path d="M1238.5 403.3V601.4" stroke="#000" stroke-width="2.8" fill="none"/>
<path d="M1229 601.4H1513.6" stroke="#000" stroke-width="2.7" fill="none"/>
<path d="M1229 404.7H1238.5M1229 470.2H1238.5M1229 535.7H1238.5M1264.4 601.4V611.6M1303.8 601.4V611.6M1342.7 601.4V611.6M1407.7 601.4V611.6M1446.8 601.4V611.6M1486.3 601.4V611.6" stroke="#000" stroke-width="2.8" fill="none"/>
<text transform="translate(1196.7 411.47) scale(0.895 1)" font-size="19.7">150</text>
<text transform="translate(1196.7 476.97) scale(0.895 1)" font-size="19.7">100</text>
<text transform="translate(1206.53 542.47) scale(0.895 1)" font-size="19.7">50</text>
<text transform="translate(1216.32 607.97) scale(0.895 1)" font-size="19.7">0</text>
<text transform="translate(1269.4 628.8) scale(0.95 1) rotate(-45)" font-size="18.7" text-anchor="end" stroke="#000" stroke-width="0.25">Control</text>
<text transform="translate(1308.8 628.8) scale(0.95 1) rotate(-45)" font-size="18.7" text-anchor="end" stroke="#000" stroke-width="0.25">CUMS</text>
<text transform="translate(1347.7 628.8) scale(0.95 1) rotate(-45)" font-size="18.7" text-anchor="end" stroke="#000" stroke-width="0.25">CUMS+Quer</text>
<text transform="translate(1412.7 628.8) scale(0.95 1) rotate(-45)" font-size="18.7" text-anchor="end" stroke="#000" stroke-width="0.25">Control</text>
<text transform="translate(1451.8 628.8) scale(0.95 1) rotate(-45)" font-size="18.7" text-anchor="end" stroke="#000" stroke-width="0.25">CUMS</text>
<text transform="translate(1491.3 628.8) scale(0.95 1) rotate(-45)" font-size="18.7" text-anchor="end" stroke="#000" stroke-width="0.25">CUMS+Quer</text>
<text transform="translate(1161.9 585.47) scale(0.9 1) rotate(-90)" font-size="20.58" stroke="#000" stroke-width="0.35">Concentration of</text>
<text transform="translate(1185.5 558.55) scale(0.93 1) rotate(-90)" font-size="20.81" stroke="#000" stroke-width="0.35">NE (pg/mL)</text>
<text transform="translate(1262.98 424.04) scale(0.889 1)" font-size="21.48"><tspan font-style="italic">p</tspan>=0.0018</text>
<text transform="translate(1406.37 453.65) scale(0.913 1)" font-size="20.49"><tspan font-style="italic">p</tspan>=0.0021</text>
<text transform="translate(1114.02 381.15) scale(0.95 1)" font-size="23.85">F</text>
<text transform="translate(1275.68 389.24) scale(0.902 1)" font-size="21.06">Serum</text>
<text transform="translate(1405.58 414.75) scale(0.866 1)" font-size="21.82">Hippocampus</text>
<text transform="translate(1337.75 444.8) scale(0.95 1)" font-size="17.2" stroke="#000" stroke-width="0.45">#</text>
<text transform="translate(1481.15 474.6) scale(0.95 1)" font-size="17.2" stroke="#000" stroke-width="0.45">#</text>
<text transform="translate(1297.39 496.63) scale(0.97 1)" font-size="27">*</text>
<text transform="translate(1441.29 521.93) scale(0.97 1)" font-size="27">*</text>
</g>
</svg>
</body>
</html>
